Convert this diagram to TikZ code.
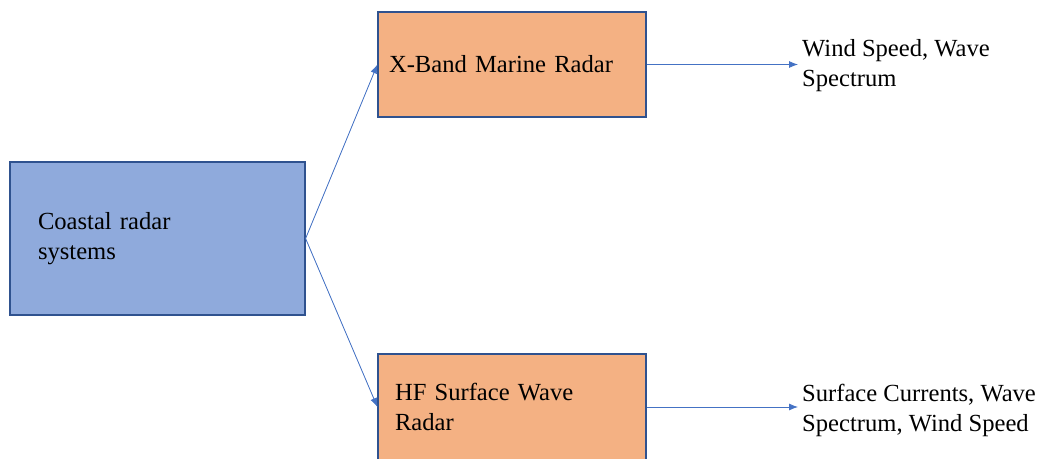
\documentclass[tikz,border=0pt]{standalone}
\usepackage{fontspec}
\usetikzlibrary{arrows.meta}
\setmainfont{Liberation Serif}
\definecolor{radarblue}{HTML}{8FAADC}
\definecolor{radarorange}{HTML}{F4B183}
\definecolor{boxline}{HTML}{2F528F}
\definecolor{arrowblue}{HTML}{4472C4}
\begin{document}
\begin{tikzpicture}[x=1pt,y=-1pt,
		radarbox/.style={draw=boxline,line width=1.2pt,rectangle,align=left,font=\fontsize{24.6}{30}\selectfont},
		outtext/.style={anchor=west,align=left,inner xsep=4pt,font=\fontsize{24.6}{30}\selectfont},
		link/.style={-{Latex[length=9pt,width=7pt]},draw=arrowblue,fill=arrowblue,line width=0.8pt}]
		\useasboundingbox (0,0) rectangle (1038,458);
		\node[radarbox,fill=radarblue,minimum width=295,minimum height=153,inner xsep=28,text width=239] (C) at (157.5,238.5) {Coastal radar\\systems};
		\node[radarbox,fill=radarorange,minimum width=268,minimum height=105,inner xsep=11,text width=246] (X) at (512,64.5) {X-Band Marine Radar};
		\node[radarbox,fill=radarorange,minimum width=268,minimum height=106,inner xsep=17,text width=234] (H) at (512,407) {HF Surface Wave\\Radar};
		
		\node[outtext] (XO) at (798,66) {Wind Speed, Wave\\Spectrum};
		\node[outtext] (HO) at (798,410) {Surface Currents, Wave\\Spectrum, Wind Speed};
		
		\draw[link] (C.east) -- (X.west);
		\draw[link] (C.east) -- (H.west);
		
		\draw[link] (X.east) -- (X.east -| XO.west);
		\draw[link] (H.east) -- (H.east -| HO.west);
\end{tikzpicture}
\end{document}
